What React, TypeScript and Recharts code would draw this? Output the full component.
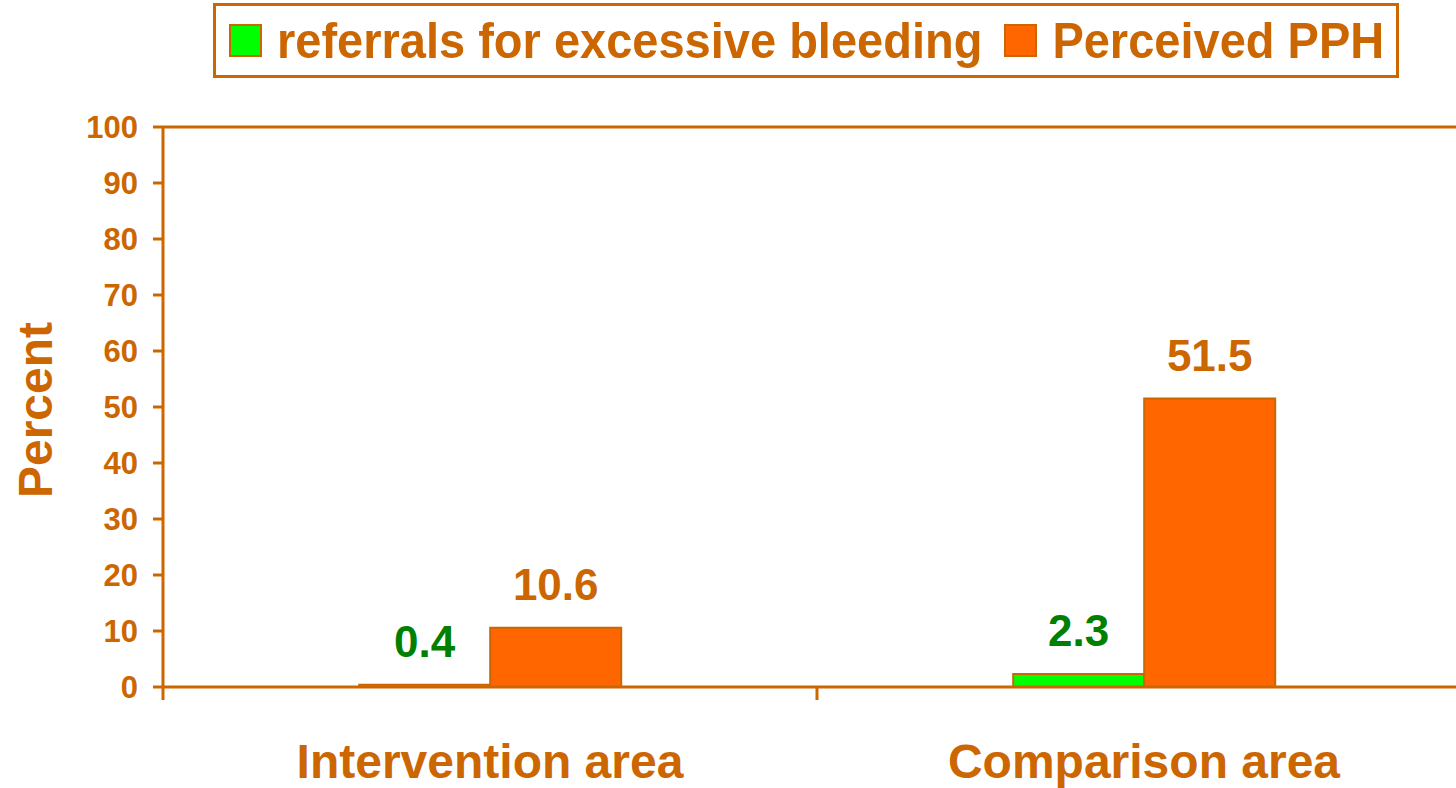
import { BarChart, Bar, XAxis, YAxis, LabelList } from "recharts";

const areas = ["Intervention area", "Comparison area"];
const referrals = [0.4, 2.3];
const perceivedPPH = [10.6, 51.5];
const yTicks = [0, 10, 20, 30, 40, 50, 60, 70, 80, 90, 100];

const series = [
  { key: "referrals", name: "referrals for excessive bleeding", fill: "#00FF00", label: "#008000" },
  { key: "pph", name: "Perceived PPH", fill: "#FF6600", label: "#CC6600" },
];

const data = areas.map((area, i) => ({
  area,
  referrals: referrals[i],
  pph: perceivedPPH[i],
}));

const font = '"Liberation Sans", Arial, sans-serif';
const brown = "#CC6600";

function PercentLabel(props: any) {
  const vb = props.viewBox || {};
  const cx = (vb.x || 0) + 35;
  const cy = (vb.y || 0) + (vb.height || 0) / 2 + 3;
  return (
    <text
      x={cx}
      y={cy}
      transform={`rotate(-90, ${cx}, ${cy})`}
      textAnchor="middle"
      dominantBaseline="central"
      fill={brown}
      fontSize={48}
      fontWeight="bold"
      fontFamily={font}
    >
      Percent
    </text>
  );
}

// tick marks between categories (on the band edges)
function BoundaryTick(props: any) {
  const { x, y, payload, index, visibleTicksCount, width } = props;
  const count = visibleTicksCount || areas.length;
  const half = payload?.offset || (width ? width / count / 2 : 0);
  const last = index === count - 1;
  return (
    <g>
      <line x1={x - half} x2={x - half} y1={y - 13} y2={y} stroke={brown} strokeWidth={3} />
      {last && <line x1={x + half} x2={x + half} y1={y - 13} y2={y} stroke={brown} strokeWidth={3} />}
    </g>
  );
}

export default function App() {
  return (
    <div
      style={{
        position: "absolute",
        left: 0,
        top: 0,
        width: 1456,
        height: 788,
        overflow: "hidden",
        background: "#fff",
        fontFamily: font,
      }}
    >
      {/* legend */}
      <div
        style={{
          position: "absolute",
          left: 213,
          top: 3,
          width: 1186,
          height: 75,
          boxSizing: "border-box",
          border: `3px solid ${brown}`,
          display: "flex",
          alignItems: "center",
          paddingLeft: 13,
          zIndex: 2,
        }}
      >
        {series.map((s, i) => (
          <div
            key={s.key}
            style={{ display: "flex", alignItems: "center", marginRight: i === 0 ? 22 : 0 }}
          >
            <div
              style={{
                width: 33,
                height: 33,
                boxSizing: "border-box",
                background: s.fill,
                border: `2px solid ${brown}`,
                marginRight: 15,
              }}
            />
            <span
              style={{
                fontSize: 47,
                fontWeight: "bold",
                color: brown,
                lineHeight: "50px",
                whiteSpace: "nowrap",
                display: "inline-block",
                transform: "scaleY(1.08)",
              }}
            >
              {s.name}
            </span>
          </div>
        ))}
      </div>

      <BarChart
        width={1500}
        height={788}
        data={data}
        margin={{ top: 125, right: 29, bottom: 0, left: 0 }}
        barCategoryGap="30%"
        barGap={0}
      >
        <XAxis
          xAxisId="top"
          orientation="top"
          type="number"
          domain={[0, 2]}
          allowDataOverflow
          height={2}
          tick={false}
          tickLine={false}
          axisLine={{ stroke: brown, strokeWidth: 3 }}
        />
        <XAxis
          xAxisId="x2"
          dataKey="area"
          height={88}
          axisLine={false}
          tickLine={false}
          tickSize={0}
          tickMargin={44}
          tick={{ fill: brown, fontSize: 48, fontWeight: "bold", fontFamily: font }}
        />
        <XAxis
          xAxisId="x1"
          dataKey="area"
          interval={0}
          height={13}
          tickSize={13}
          tickMargin={0}
          tickLine={false}
          tick={BoundaryTick}
          axisLine={{ stroke: brown, strokeWidth: 3 }}
        />
        <YAxis
          width={163}
          domain={[0, 100]}
          ticks={yTicks}
          interval={0}
          tickSize={10}
          tickMargin={15}
          axisLine={{ stroke: brown, strokeWidth: 3 }}
          tickLine={{ stroke: brown, strokeWidth: 3 }}
          tick={{ fill: brown, fontSize: 31, fontWeight: "bold", fontFamily: font }}
          label={{ content: PercentLabel }}
        />
        {series.map((s) => (
          <Bar
            key={s.key}
            xAxisId="x2"
            dataKey={s.key}
            name={s.name}
            fill={s.fill}
            stroke={brown}
            strokeWidth={2}
            isAnimationActive={false}
          >
            <LabelList
              dataKey={s.key}
              position="top"
              offset={28}
              fill={s.label}
              fontSize={44}
              fontWeight="bold"
              fontFamily={font}
            />
          </Bar>
        ))}
      </BarChart>
    </div>
  );
}
